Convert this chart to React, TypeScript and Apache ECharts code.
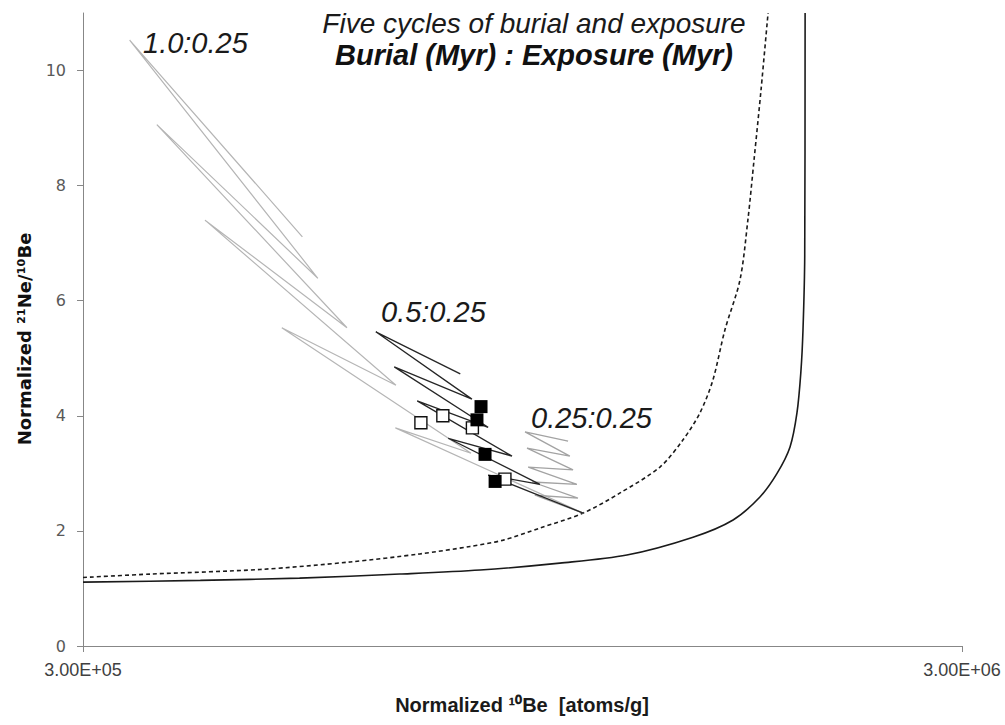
import { useEffect, useRef } from "react";
import * as echarts from "echarts";

// Normalized 10Be [atoms/g] on x (log), normalized 21Ne/10Be on y.

// Steady-state erosion curve (solid)
const steadyErosion: [number, number][] = [
  [3.0e5, 1.11], [4.08e5, 1.14], [5.29e5, 1.18], [6.88e5, 1.25], [8.49e5, 1.32],
  [1.046e6, 1.44], [1.247e6, 1.58], [1.483e6, 1.89], [1.647e6, 2.19], [1.767e6, 2.59],
  [1.848e6, 3.0], [1.912e6, 3.46], [1.947e6, 4.05], [1.967e6, 4.76], [1.978e6, 5.49],
  [1.987e6, 6.78], [1.989e6, 11.0],
];

// Second reference curve (dashed)
const dashedCurve: [number, number][] = [
  [3.0e5, 1.19], [3.58e5, 1.25], [4.77e5, 1.33], [6.04e5, 1.46], [7.25e5, 1.6],
  [8.27e5, 1.73], [9.02e5, 1.84], [9.93e5, 2.05], [1.112e6, 2.31], [1.225e6, 2.66],
  [1.36e6, 3.11], [1.444e6, 3.58], [1.51e6, 4.05], [1.562e6, 4.62], [1.612e6, 5.49],
  [1.677e6, 6.36], [1.712e6, 7.4], [1.74e6, 8.45], [1.772e6, 9.66], [1.805e6, 11.0],
];

// Five burial / exposure cycles, 1.0 Myr burial : 0.25 Myr exposure
const cycles10: [number, number][] = [
  [1.112e6, 2.31], [6.8e5, 3.79], [8.29e5, 3.35], [5.05e5, 5.53], [6.81e5, 4.53],
  [4.13e5, 7.4], [5.99e5, 5.53], [3.64e5, 9.06], [5.55e5, 6.39], [3.39e5, 10.53],
  [5.33e5, 7.11],
];

// 0.5 Myr burial : 0.25 Myr exposure
const cycles05: [number, number][] = [
  [1.112e6, 2.31], [8.67e5, 2.97], [9.93e5, 2.81], [7.81e5, 3.61], [9.23e5, 3.3],
  [7.2e5, 4.26], [8.67e5, 3.8], [6.78e5, 4.85], [8.31e5, 4.29], [6.46e5, 5.46],
  [8.06e5, 4.73],
];

// 0.25 Myr burial : 0.25 Myr exposure
const cycles025: [number, number][] = [
  [1.112e6, 2.31], [9.8e5, 2.62], [1.097e6, 2.57], [9.73e5, 2.85], [1.094e6, 2.81],
  [9.63e5, 3.11], [1.083e6, 3.06], [9.6e5, 3.44], [1.074e6, 3.3], [9.55e5, 3.72],
  [1.069e6, 3.56],
];

// Samples
const filledSamples: [number, number][] = [
  [8.51e5, 4.16], [8.42e5, 3.93], [8.6e5, 3.33], [8.83e5, 2.86],
];
const openSamples: [number, number][] = [
  [7.27e5, 3.88], [7.7e5, 4.0], [8.32e5, 3.79], [9.06e5, 2.9],
];

const xTicks = [3e5, 3e6];
const yTicks = [0, 2, 4, 6, 8, 10];

function sci(v: number): string {
  const e = Math.floor(Math.log10(v) + 1e-9);
  const m = v / Math.pow(10, e);
  return m.toFixed(2) + "E+" + String(e).padStart(2, "0");
}

const AXIS = "#878787";
const SANS = "'Liberation Sans', Arial, sans-serif";
const NARROW = "'Liberation Sans Narrow', 'Liberation Sans', sans-serif";

export default function App() {
  const ref = useRef<HTMLDivElement>(null);

  useEffect(() => {
    if (!ref.current) return;
    const chart = echarts.init(ref.current, undefined, { renderer: "svg" });

    const zig = (data: [number, number][], color: string, width: number, z: number) => ({
      type: "line",
      data,
      showSymbol: false,
      symbol: "none",
      z,
      lineStyle: { color, width },
      silent: true,
    });

    const label = (text: string, x: number, y: number) => ({
      type: "text",
      x,
      y,
      style: { text, font: `italic 29px ${SANS}`, fill: "#1a1a1a", align: "left", verticalAlign: "middle" },
    });

    chart.setOption({
      animation: false,
      backgroundColor: "#ffffff",
      grid: { left: 83, right: 43, top: 13, bottom: 79 },
      xAxis: {
        type: "log",
        logBase: 10,
        min: 3e5,
        max: 3e6,
        axisLine: { show: true, lineStyle: { color: AXIS, width: 1 } },
        axisTick: { show: true, length: 6, customValues: xTicks, lineStyle: { color: AXIS } },
        minorTick: { show: false },
        splitLine: { show: false },
        axisLabel: {
          customValues: xTicks,
          formatter: (v: number) => sci(v),
          margin: 15,
          fontFamily: NARROW,
          fontSize: 18,
          color: "#404040",
        },
      },
      yAxis: {
        type: "value",
        min: 0,
        max: 11,
        axisLine: { show: true, lineStyle: { color: AXIS, width: 1 } },
        axisTick: { show: true, length: 6, customValues: yTicks, lineStyle: { color: AXIS } },
        splitLine: { show: false },
        axisLabel: {
          customValues: yTicks,
          margin: 17,
          fontFamily: "'DejaVu Sans', Verdana, sans-serif",
          fontSize: 16,
          color: "#595959",
        },
      },
      graphic: [
        {
          type: "text",
          x: 534,
          y: 23,
          style: {
            text: "Five cycles of burial and exposure",
            font: `italic 28px ${SANS}`,
            fill: "#1a1a1a",
            align: "center",
            verticalAlign: "middle",
          },
        },
        {
          type: "text",
          x: 534,
          y: 55,
          style: {
            text: "Burial (Myr) : Exposure (Myr)",
            font: `italic bold 29px ${SANS}`,
            fill: "#111111",
            align: "center",
            verticalAlign: "middle",
          },
        },
        label("1.0:0.25", 143, 43),
        label("0.5:0.25", 381, 312),
        label("0.25:0.25", 531, 418),
        {
          type: "text",
          x: 522,
          y: 705,
          style: {
            text: "Normalized ¹⁰Be  [atoms/g]",
            font: `bold 20px ${NARROW}`,
            fill: "#1a1a1a",
            align: "center",
            verticalAlign: "middle",
          },
        },
        {
          type: "text",
          x: 24,
          y: 339,
          rotation: Math.PI / 2,
          style: {
            text: "Normalized ²¹Ne/¹⁰Be",
            font: `bold 18px 'DejaVu Sans', Verdana, sans-serif`,
            fill: "#111111",
            align: "center",
            verticalAlign: "middle",
          },
        },
      ],
      series: [
        {
          type: "line",
          data: steadyErosion,
          showSymbol: false,
          symbol: "none",
          smooth: 0.3,
          z: 3,
          lineStyle: { color: "#1a1a1a", width: 1.6 },
        },
        {
          type: "line",
          data: dashedCurve,
          showSymbol: false,
          symbol: "none",
          smooth: 0.3,
          z: 3,
          lineStyle: { color: "#1a1a1a", width: 1.6, type: [4, 3] },
        },
        zig(cycles10, "#b5b5b5", 1.2, 4),
        zig(cycles025, "#a3a3a3", 1.3, 4),
        zig(cycles05, "#262626", 1.3, 5),
        {
          type: "scatter",
          data: openSamples,
          symbol: "rect",
          symbolSize: 12,
          z: 6,
          itemStyle: { color: "#ffffff", borderColor: "#111111", borderWidth: 1.4, opacity: 1 },
        },
        {
          type: "scatter",
          data: filledSamples,
          symbol: "rect",
          symbolSize: 13,
          z: 7,
          itemStyle: { color: "#000000", opacity: 1 },
        },
      ],
    });

    return () => chart.dispose();
  }, []);

  return (
    <div
      ref={ref}
      style={{ position: "fixed", left: 0, top: 0, width: 1005, height: 725, background: "#fff" }}
    />
  );
}
